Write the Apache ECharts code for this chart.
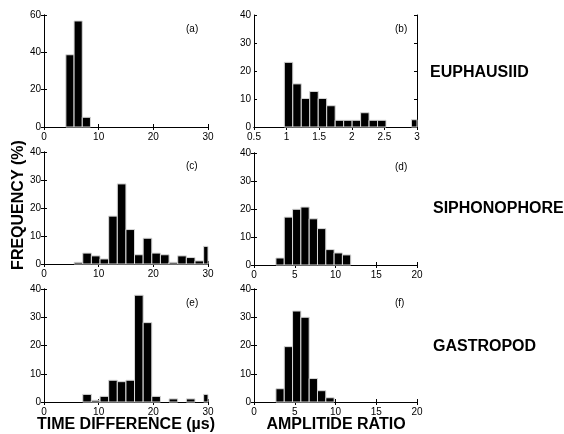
<!DOCTYPE html>
<html><head><meta charset="utf-8">
<script src="https://cdn.jsdelivr.net/npm/echarts@6/dist/echarts.min.js"></script>
<style>html,body{margin:0;padding:0;background:#fff}#c{width:564px;height:434px}</style>
</head><body><div id="c"></div>
<script>
// Panel (a): time difference, euphausiid
const edgesA = [4.0, 5.5, 7.0, 8.5];
const freqA = [38.7, 56.8, 5.2];
// Panel (b): amplitude ratio, euphausiid
const edgesB = [0.965,1.095,1.225,1.355,1.485,1.615,1.745,1.875,2.005,2.135,2.265,2.395,2.525,2.655,2.785,2.915,3.045];
const freqB = [23.1,15.4,10.2,12.7,10.2,7.6,2.4,2.4,2.4,5.1,2.4,2.4,0,0,0,2.6];
// Panel (c): time difference, siphonophore
const edgesC = [5.51,7.09,8.67,10.25,11.83,13.41,14.99,16.56,18.14,19.72,21.30,22.88,24.46,26.04,27.62,29.20,30.78];
const freqC = [0.6,3.9,2.9,1.8,17.1,28.6,12.3,3.3,9.2,3.9,3.3,0.6,2.9,2.3,1.1,6.3];
// Panel (d): amplitude ratio, siphonophore
const edgesD = [2.69,3.71,4.73,5.75,6.77,7.79,8.81,9.83,10.85,11.87];
const freqD = [2.5,17.1,19.9,20.7,16.5,13.0,5.5,4.3,3.6];
// Panel (e): time difference, gastropod
const edgesE = [7.09,8.67,10.25,11.83,13.41,14.99,16.56,18.14,19.72,21.30,22.88,24.46,26.04,27.62,29.20,30.78];
const freqE = [2.7,0.6,2.0,7.7,7.2,7.7,37.8,28.1,2.0,0,1.1,0,1.1,0,2.7];
// Panel (f): amplitude ratio, gastropod
const edgesF = [2.69,3.71,4.73,5.75,6.77,7.79,8.81,9.83];
const freqF = [4.7,19.6,32.2,30.0,8.3,4.0,1.5];

const panelLabels = ['(a)','(b)','(c)','(d)','(e)','(f)'];
const speciesNames = ['EUPHAUSIID','SIPHONOPHORE','GASTROPOD'];
const yTitle = 'FREQUENCY (%)';
const xTitleLeft = 'TIME DIFFERENCE (µs)';
const xTitleRight = 'AMPLITIDE RATIO';

const panels = [
  {edges: edgesA, freq: freqA, xr:[0,30,10], yr:[0,60,20], g:{left:44, top:15, width:164, height:112}},
  {edges: edgesB, freq: freqB, xr:[0.5,3,0.5], yr:[0,40,10], g:{left:254, top:15, width:163, height:112}},
  {edges: edgesC, freq: freqC, xr:[0,30,10], yr:[0,40,10], g:{left:44, top:152, width:164, height:112}},
  {edges: edgesD, freq: freqD, xr:[0,20,5], yr:[0,40,10], g:{left:254, top:153, width:163, height:112}},
  {edges: edgesE, freq: freqE, xr:[0,30,10], yr:[0,40,10], g:{left:44, top:289, width:164, height:113}},
  {edges: edgesF, freq: freqF, xr:[0,20,5], yr:[0,40,10], g:{left:254, top:289, width:163, height:113}}
];

const FONT = 'Liberation Sans, Arial, sans-serif';
const grid = [], xAxis = [], yAxis = [], series = [], graphic = [];
panels.forEach((p, i) => {
  grid.push(Object.assign({show:false}, p.g));
  const common = {type:'value', gridIndex:i, splitLine:{show:false},
    axisLine:{show:true, lineStyle:{color:'#000', width:1}},
    axisTick:{show:true, inside:true, length:3, lineStyle:{color:'#000'}}};
  xAxis.push(Object.assign({}, common, {position:'bottom', min:p.xr[0], max:p.xr[1], interval:p.xr[2],
    axisLabel:{show:true, color:'#000', fontSize:10, fontFamily:FONT, margin:5}}));
  xAxis.push(Object.assign({}, common, {position:'top', min:p.xr[0], max:p.xr[1], interval:p.xr[2],
    axisLabel:{show:false}}));
  yAxis.push(Object.assign({}, common, {position:'left', min:p.yr[0], max:p.yr[1], interval:p.yr[2],
    axisLabel:{show:true, color:'#000', fontSize:10, fontFamily:FONT, margin:3}}));
  yAxis.push(Object.assign({}, common, {position:'right', min:p.yr[0], max:p.yr[1], interval:p.yr[2],
    axisLabel:{show:false}}));
  const data = p.freq.map((v, k) => [p.edges[k], p.edges[k+1], v]);
  series.push({
    type:'custom', xAxisIndex:2*i, yAxisIndex:2*i, data: data,
    encode:{x:[0,1], y:2},
    renderItem: function(params, api){
      const v = api.value(2);
      if (!(v > 0)) return null;
      const p0 = api.coord([api.value(0), v]);
      const p1 = api.coord([api.value(1), 0]);
      const rect = echarts.graphic.clipRectByRect(
        {x:p0[0], y:p0[1], width:p1[0]-p0[0], height:p1[1]-p0[1]},
        {x:params.coordSys.x, y:params.coordSys.y, width:params.coordSys.width, height:params.coordSys.height});
      if (!rect) return null;
      return {type:'rect', shape:rect, style:{fill:'#000', stroke:'#d8d8d8', lineWidth:1}};
    }
  });
  graphic.push({type:'text', left: p.g.left + p.g.width - 22, top: p.g.top + 9,
    style:{text: panelLabels[i], fill:'#000', font:'10px ' + FONT}});
});

// species names
[72, 208, 346].forEach((y, k) => {
  graphic.push({type:'text', left: k === 0 ? 430 : 433, top: y - 7,
    style:{text: speciesNames[k], fill:'#000', font:'bold 16px ' + FONT}});
});
// axis titles
graphic.push({type:'text', x: 19, y: 205, rotation: Math.PI/2,
  style:{text: yTitle, fill:'#000', font:'bold 16px ' + FONT, align:'center', verticalAlign:'middle'}});
graphic.push({type:'text', x: 126, y: 425,
  style:{text: xTitleLeft, fill:'#000', font:'bold 16px ' + FONT, align:'center', verticalAlign:'middle'}});
graphic.push({type:'text', x: 336, y: 425,
  style:{text: xTitleRight, fill:'#000', font:'bold 16px ' + FONT, align:'center', verticalAlign:'middle'}});

const chart = echarts.init(document.getElementById('c'), null, {renderer:'canvas'});
chart.setOption({animation:false, backgroundColor:'#fff', grid, xAxis, yAxis, series, graphic});
</script></body></html>
